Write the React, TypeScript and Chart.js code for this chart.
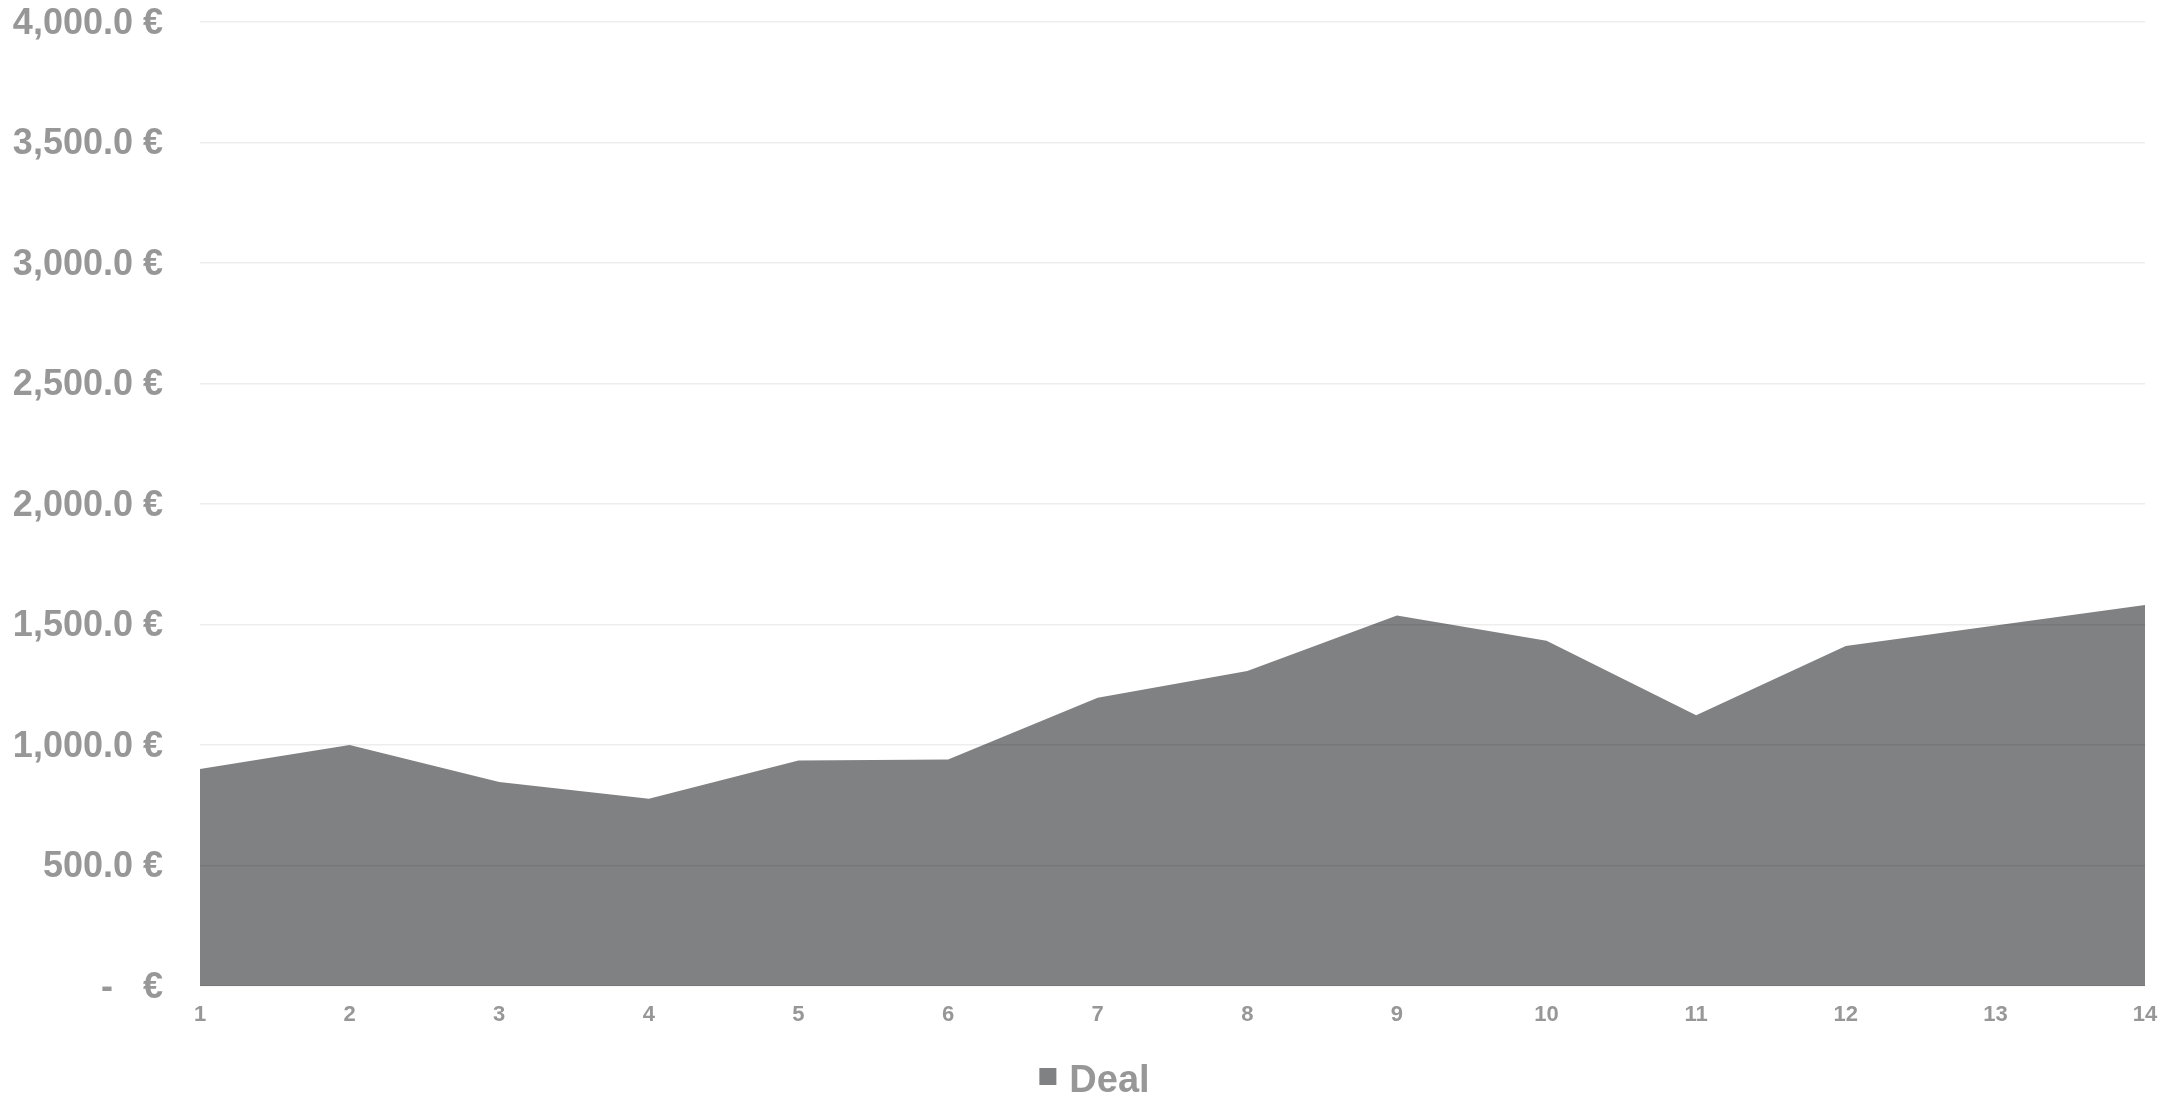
import React, { useEffect, useRef } from "react";
import { Chart, registerables } from "chart.js";

Chart.register(...registerables);

// Deal value per period
const periods = ["1", "2", "3", "4", "5", "6", "7", "8", "9", "10", "11", "12", "13", "14"];
const dealValues = [900, 1000, 846, 777, 936, 940, 1196, 1307, 1537, 1433, 1124, 1411, 1496, 1581];
const seriesName = "Deal";

const FONT = "'Liberation Sans', Arial, Helvetica, sans-serif";
const TEXT = "#979797";
const FILL = "#808183";

const CANVAS_W = 2161;
const CANVAS_H = 1087;

function euro(v: number): string {
  if (v === 0) return "-   €";
  return v.toLocaleString("en-US", { minimumFractionDigits: 1, maximumFractionDigits: 1 }) + " €";
}

// Compact legend under the x axis: small square swatch followed by the series name
const bottomLegend = {
  id: "bottomLegend",
  afterDraw(chart: any) {
    const ctx = chart.ctx as CanvasRenderingContext2D;
    const ds = chart.data.datasets[0];
    const box = 17;
    const gap = 13;
    ctx.save();
    ctx.font = `bold 38px ${FONT}`;
    const textW = ctx.measureText(ds.label).width;
    const total = box + gap + textW;
    const left = chart.width / 2 - total / 2 + 6;
    const midY = chart.chartArea.bottom + 96;
    ctx.fillStyle = ds.backgroundColor;
    ctx.fillRect(left, midY - 14, box, box);
    ctx.fillStyle = TEXT;
    ctx.textBaseline = "middle";
    ctx.textAlign = "left";
    ctx.fillText(ds.label, left + box + gap, midY);
    ctx.restore();
  },
};

export default function App() {
  const canvasRef = useRef<HTMLCanvasElement | null>(null);

  useEffect(() => {
    if (!canvasRef.current) return;
    const chart = new Chart(canvasRef.current, {
      type: "line",
      data: {
        labels: periods,
        datasets: [
          {
            label: seriesName,
            data: dealValues,
            fill: "origin",
            backgroundColor: FILL,
            borderColor: FILL,
            borderWidth: 0,
            pointRadius: 0,
            tension: 0,
          },
        ],
      },
      plugins: [bottomLegend],
      options: {
        animation: false,
        responsive: false,
        maintainAspectRatio: false,
        layout: { padding: { top: 0, right: 24, left: 0, bottom: 34 } },
        plugins: {
          tooltip: { enabled: false },
          legend: { display: false },
        },
        scales: {
          x: {
            grid: {
              display: true,
              drawOnChartArea: false,
              color: "rgba(0,0,0,0)",
              tickColor: "rgba(0,0,0,0)",
              tickLength: 16,
            },
            border: { display: false },
            ticks: {
              color: TEXT,
              font: { family: FONT, size: 22, weight: "bold" },
              padding: 0,
              maxRotation: 0,
              autoSkip: false,
            },
            afterFit: (scale: any) => {
              scale.height = 75;
            },
          },
          y: {
            min: 0,
            max: 4000,
            border: { display: false },
            grid: {
              color: "rgba(0,0,0,0.07)",
              lineWidth: 1.5,
              tickColor: "rgba(0,0,0,0)",
              tickLength: 37,
              z: 1,
            },
            ticks: {
              stepSize: 500,
              color: TEXT,
              font: { family: FONT, size: 36, weight: "bold", lineHeight: 0.78 },
              padding: 0,
              labelOffset: 2,
              callback: (v: any) => euro(Number(v)),
            },
            afterFit: (scale: any) => {
              scale.width = 192;
            },
          },
        },
      },
    });
    return () => chart.destroy();
  }, []);

  return (
    <div style={{ width: CANVAS_W, height: CANVAS_H, overflow: "hidden" }}>
      <canvas ref={canvasRef} width={CANVAS_W} height={CANVAS_H} style={{ display: "block" }} />
    </div>
  );
}
